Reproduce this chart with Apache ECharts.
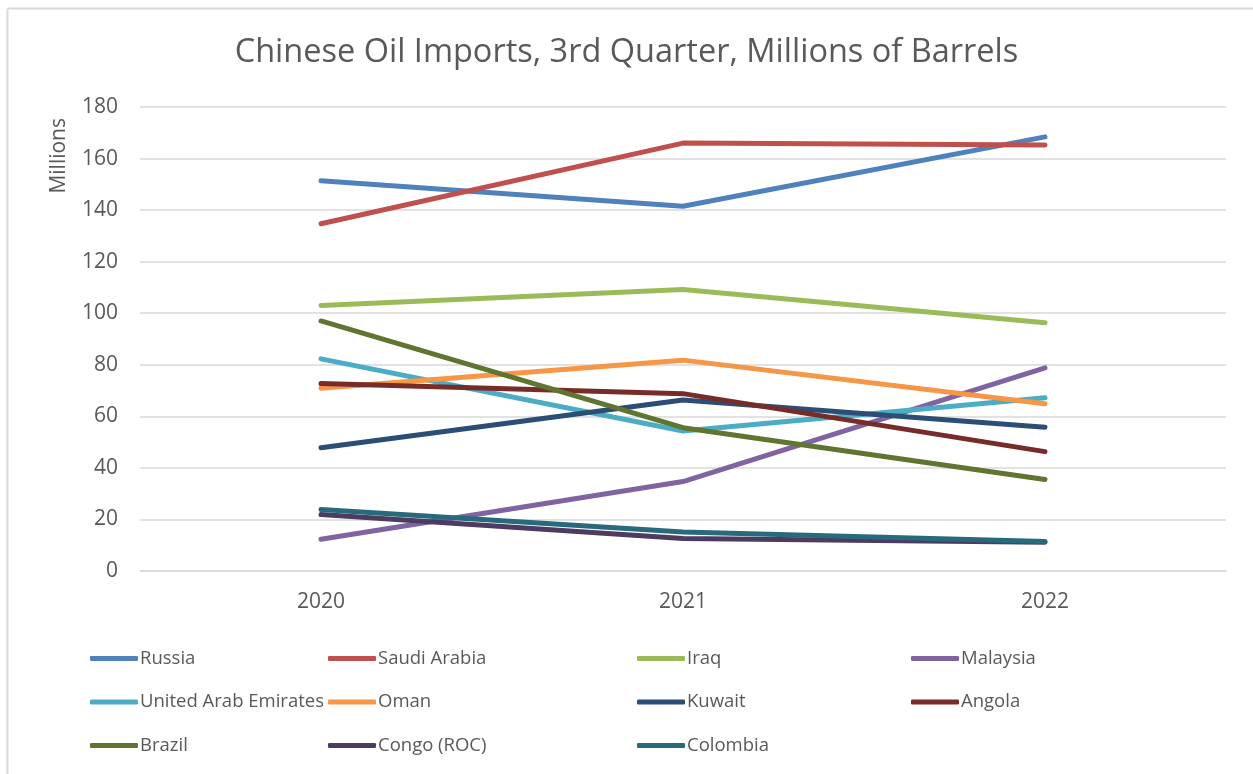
<!DOCTYPE html>
<html>
<head>
<meta charset="utf-8">
<script src="https://cdn.jsdelivr.net/npm/echarts@6/dist/echarts.min.js"></script>
<style>
  html, body { margin: 0; padding: 0; background: #fff; }
  #main { width: 1253px; height: 774px; }
</style>
</head>
<body>
<div id="main"></div>
<script>
// data
var years = ["2020", "2021", "2022"];
var yTicks = [0, 20, 40, 60, 80, 100, 120, 140, 160, 180];

var russia   = [151.4, 141.5, 168.4];
var saudi    = [134.7, 166.0, 165.3];
var iraq     = [103.0, 109.2, 96.3];
var malaysia = [12.3, 34.7, 78.8];
var uae      = [82.3, 54.3, 67.2];
var oman     = [70.9, 81.8, 64.9];
var kuwait   = [47.8, 66.3, 55.8];
var angola   = [72.7, 68.8, 46.3];
var brazil   = [97.0, 55.6, 35.5];
var congo    = [21.9, 12.6, 11.2];
var colombia = [23.9, 15.1, 11.4];

var names  = ["Russia", "Saudi Arabia", "Iraq", "Malaysia", "United Arab Emirates", "Oman", "Kuwait", "Angola", "Brazil", "Congo (ROC)", "Colombia"];
var values = [russia, saudi, iraq, malaysia, uae, oman, kuwait, angola, brazil, congo, colombia];
var colors = ["#4F81BD", "#C0504D", "#9BBB59", "#8064A2", "#4BACC6", "#F79646", "#2C4D75", "#772C2A", "#5F7530", "#4D3B62", "#276A7C"];

var txt = "#595959";
var font = "Open Sans";

var chart = echarts.init(document.getElementById('main'));

// legend columns (Excel puts them in 4 columns, 3 rows)
var legendCols = [
  { left: 85,  names: ["Russia", "United Arab Emirates", "Brazil"] },
  { left: 323, names: ["Saudi Arabia", "Oman", "Congo (ROC)"] },
  { left: 632, names: ["Iraq", "Kuwait", "Colombia"] },
  { left: 906, names: ["Malaysia", "Angola"] }
];

var legends = legendCols.map(function (c) {
  return {
    orient: 'vertical',
    left: c.left,
    top: 639,
    itemGap: 14.5,
    itemWidth: 48,
    itemHeight: 5,
    icon: 'roundRect',
    data: c.names,
    textStyle: { color: txt, fontSize: 18.5, lineHeight: 29, fontFamily: font, padding: [0, 0, 0, -3] },
    selectedMode: false
  };
});

var series = names.map(function (n, i) {
  return {
    name: n,
    type: 'line',
    data: values[i],
    symbol: 'none',
    color: colors[i],
    lineStyle: { width: 5, cap: 'round', join: 'round' }
  };
});

option = {
  backgroundColor: '#fff',
  animation: false,
  title: {
    text: 'Chinese Oil Imports, 3rd Quarter, Millions of Barrels',
    left: 'center',
    top: 31,
    textStyle: { color: txt, fontSize: 32.5, fontWeight: 'normal', fontFamily: font }
  },
  graphic: [
    { type: 'line', shape: { x1: 7.5, y1: 8.5, x2: 1253, y2: 8.5 }, style: { stroke: '#d9d9d9', lineWidth: 2 } },
    { type: 'line', shape: { x1: 7.5, y1: 8.5, x2: 7.5, y2: 774 }, style: { stroke: '#d9d9d9', lineWidth: 2 } }
  ],
  legend: legends,
  grid: { left: 140, right: 27, top: 107, bottom: 203, containLabel: false },
  xAxis: {
    type: 'category',
    data: years,
    boundaryGap: true,
    axisLine: { show: true, lineStyle: { color: '#d9d9d9', width: 1.5 } },
    axisTick: { show: false },
    axisLabel: { color: txt, fontSize: 21, fontFamily: font, margin: 21 }
  },
  yAxis: {
    type: 'value',
    min: yTicks[0],
    max: yTicks[yTicks.length - 1],
    interval: 20,
    name: 'Millions',
    nameLocation: 'end',
    nameRotate: 90,
    nameGap: 0,
    nameTextStyle: { color: txt, fontSize: 21, fontFamily: font, align: 'right', verticalAlign: 'bottom', padding: [0, 11, 70, 0] },
    axisLine: { show: false },
    axisTick: { show: false },
    splitLine: { lineStyle: { color: '#d9d9d9', width: 1.5 } },
    axisLabel: { color: txt, fontSize: 21, fontFamily: font, margin: 22 }
  },
  series: series
};
chart.setOption(option);
</script>
</body>
</html>
